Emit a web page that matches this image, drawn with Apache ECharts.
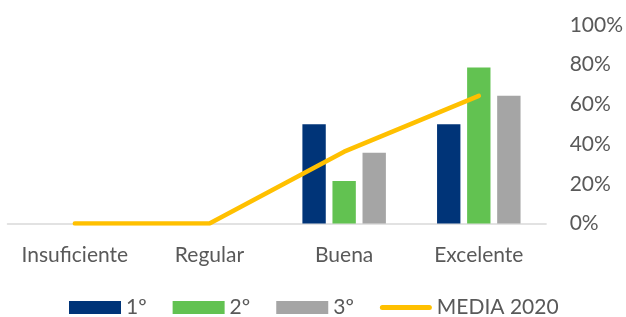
<!DOCTYPE html>
<html>
<head>
<meta charset="utf-8">
<script src="https://cdn.jsdelivr.net/npm/echarts@6/dist/echarts.min.js"></script>
<style>html,body{margin:0;padding:0;background:#fff}#c{width:626px;height:317px}</style>
</head>
<body>
<div id="c"></div>
<script>
var categories = ['Insuficiente', 'Regular', 'Buena', 'Excelente'];
var serie1 = [0, 0, 50, 50];
var serie2 = [0, 0, 21.4, 78.6];
var serie3 = [0, 0, 35.7, 64.3];
var media2020 = [0, 0, 36.2, 64.3];
var seriesNames = ['1º', '2º', '3º', 'MEDIA 2020'];
var yTicks = [0, 20, 40, 60, 80, 100];

var FONT = 'Lato';
var TXT = '#595959';
var LINE_ICON = 'path://M0,0M52,13M2.5,4L49.5,4A2.5,2.5 0 0 1 49.5,9L2.5,9A2.5,2.5 0 0 1 2.5,4Z';
var chart = echarts.init(document.getElementById('c'), null, {renderer: 'canvas'});
chart.setOption({
  animation: false,
  textStyle: {fontFamily: FONT},
  grid: {left: 7.5, right: 78.5, top: 25, bottom: 93.5, containLabel: false},
  legend: {
    left: 69, top: 297, padding: 0,
    itemWidth: 52, itemHeight: 13, itemGap: 26,
    textStyle: {fontFamily: FONT, fontSize: 21, color: TXT},
    data: [
      {name: seriesNames[0], icon: 'rect'},
      {name: seriesNames[1], icon: 'rect'},
      {name: seriesNames[2], icon: 'rect'},
      {name: seriesNames[3], icon: LINE_ICON, itemStyle: {color: '#FFC000'}}
    ]
  },
  xAxis: {
    type: 'category', data: categories, boundaryGap: true,
    axisLine: {lineStyle: {color: '#D9D9D9', width: 1.5}},
    axisTick: {show: false},
    axisLabel: {color: TXT, fontSize: 21, fontFamily: FONT, margin: 21, interval: 0, hideOverlap: false}
  },
  yAxis: {
    type: 'value', position: 'right', min: yTicks[0], max: yTicks[yTicks.length - 1], interval: 20,
    axisLine: {show: false}, axisTick: {show: false}, splitLine: {show: false},
    axisLabel: {color: TXT, fontSize: 21, fontFamily: FONT, margin: 23.5, formatter: '{value}%'}
  },
  series: [
    {name: seriesNames[0], type: 'bar', data: serie1, barGap: '28.6%', barCategoryGap: '38%', itemStyle: {color: '#003478'}},
    {name: seriesNames[1], type: 'bar', data: serie2, itemStyle: {color: '#62C251'}},
    {name: seriesNames[2], type: 'bar', data: serie3, itemStyle: {color: '#A5A5A5'}},
    {name: seriesNames[3], type: 'line', data: media2020, symbol: 'none', z: 5,
      lineStyle: {color: '#FFC000', width: 4.5, cap: 'round', join: 'round'},
      itemStyle: {color: '#FFC000'}}
  ]
});
</script>
</body>
</html>
